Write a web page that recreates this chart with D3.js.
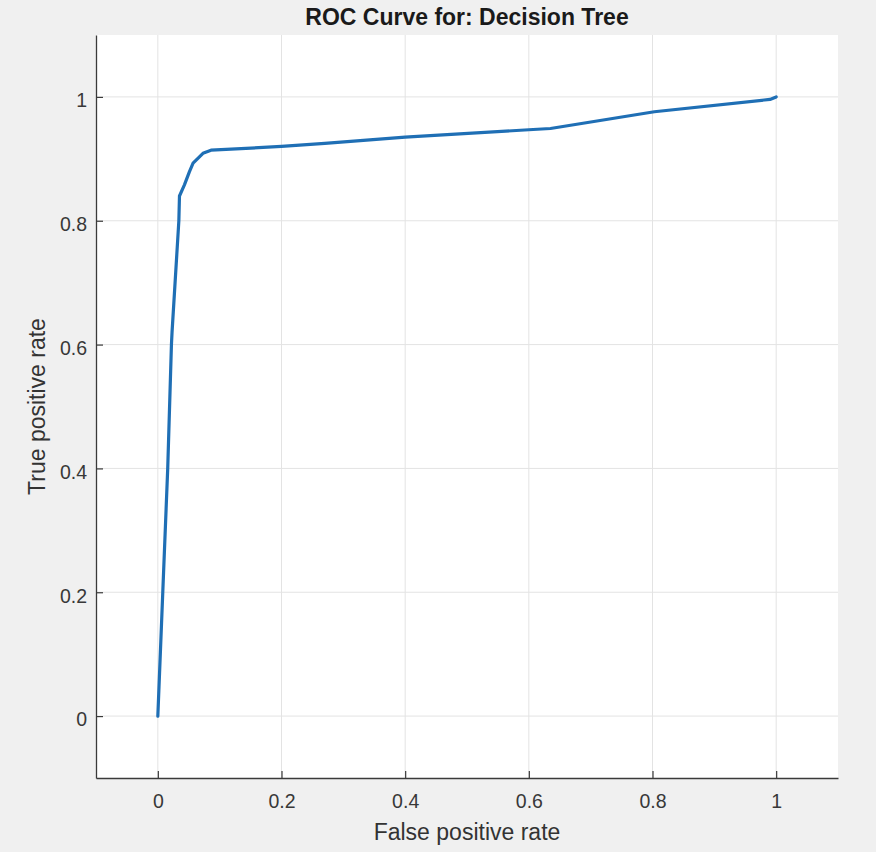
<!DOCTYPE html>
<html>
<head>
<meta charset="utf-8">
<script src="https://cdn.jsdelivr.net/npm/d3@7"></script>
<style>
  html, body { margin: 0; padding: 0; background: #f0f0f0; }
  text { font-family: Arial, "Liberation Sans", Helvetica, sans-serif; }
</style>
</head>
<body>
<div id="roc"></div>
<script>
// ROC points
const fpr = [0, 0.008, 0.016, 0.022, 0.023, 0.034, 0.035, 0.043, 0.051, 0.057, 0.073, 0.086,
             0.2, 0.27, 0.4, 0.6, 0.635, 0.803, 0.99, 1];
const tpr = [0, 0.2, 0.4, 0.6, 0.62, 0.80, 0.84, 0.858, 0.879, 0.893, 0.909, 0.914,
             0.920, 0.925, 0.935, 0.947, 0.949, 0.976, 0.996, 1];

const tickValues = [0, 0.2, 0.4, 0.6, 0.8, 1];
const tickLabels = ["0", "0.2", "0.4", "0.6", "0.8", "1"];

const width = 876, height = 852;
const margin = { top: 35, right: 38, bottom: 74, left: 96 };

const svg = d3.select("#roc")
    .append("svg")
    .attr("width", width)
    .attr("height", height);

svg.append("rect")
    .attr("width", width).attr("height", height)
    .attr("fill", "#f0f0f0");

const x = d3.scaleLinear()
    .domain([-0.1, 1.1])
    .range([margin.left, width - margin.right]);
const y = d3.scaleLinear()
    .domain([-0.1, 1.1])
    .range([height - margin.bottom, margin.top]);

// white plot area
svg.append("rect")
    .attr("x", x(-0.1)).attr("y", y(1.1))
    .attr("width", x(1.1) - x(-0.1))
    .attr("height", y(-0.1) - y(1.1))
    .attr("fill", "#ffffff");

// grid
svg.append("g")
    .selectAll("line")
    .data(tickValues)
    .join("line")
    .attr("x1", d => x(d)).attr("x2", d => x(d))
    .attr("y1", y(1.1)).attr("y2", y(-0.1))
    .attr("stroke", "#e3e3e3").attr("stroke-width", 1);
svg.append("g")
    .selectAll("line")
    .data(tickValues)
    .join("line")
    .attr("y1", d => y(d)).attr("y2", d => y(d))
    .attr("x1", x(-0.1)).attr("x2", x(1.1))
    .attr("stroke", "#e3e3e3").attr("stroke-width", 1);

const fmt = d => tickLabels[tickValues.indexOf(d)];

const xAxis = svg.append("g")
    .attr("transform", `translate(0,${y(-0.1)})`)
    .call(d3.axisBottom(x).tickValues(tickValues).tickFormat(fmt)
        .tickSizeInner(-7).tickSizeOuter(0).tickPadding(16));

const yAxis = svg.append("g")
    .attr("transform", `translate(${x(-0.1)},0)`)
    .call(d3.axisLeft(y).tickValues(tickValues).tickFormat(fmt)
        .tickSizeInner(-7).tickSizeOuter(0).tickPadding(9));
yAxis.selectAll("text").attr("dy", "0.5em");

[xAxis, yAxis].forEach(a => {
    a.select(".domain").attr("stroke", "#3a3a3a").attr("stroke-width", 1.3);
    a.selectAll(".tick line").attr("stroke", "#3a3a3a").attr("stroke-width", 1.2);
    a.selectAll("text")
        .attr("fill", "#383838")
        .style("font-size", "19.5px")
        .style("font-family", "Arial, 'Liberation Sans', sans-serif");
});

// curve
const pts = fpr.map((v, i) => [v, tpr[i]]);
svg.append("path")
    .datum(pts)
    .attr("fill", "none")
    .attr("stroke", "#1f6fb5")
    .attr("stroke-width", 3.2)
    .attr("stroke-linejoin", "round")
    .attr("stroke-linecap", "round")
    .attr("d", d3.line().x(d => x(d[0])).y(d => y(d[1])));

// title and labels
svg.append("text")
    .attr("x", 467).attr("y", 25)
    .attr("text-anchor", "middle")
    .attr("font-size", "23px")
    .attr("font-weight", "bold")
    .attr("fill", "#1a1a1a")
    .text("ROC Curve for: Decision Tree");

svg.append("text")
    .attr("x", 467).attr("y", 840)
    .attr("text-anchor", "middle")
    .attr("font-size", "23px")
    .attr("fill", "#333")
    .text("False positive rate");

svg.append("text")
    .attr("transform", `translate(45,${y(0.5)}) rotate(-90)`)
    .attr("text-anchor", "middle")
    .attr("font-size", "23px")
    .attr("fill", "#333")
    .text("True positive rate");
</script>
</body>
</html>
